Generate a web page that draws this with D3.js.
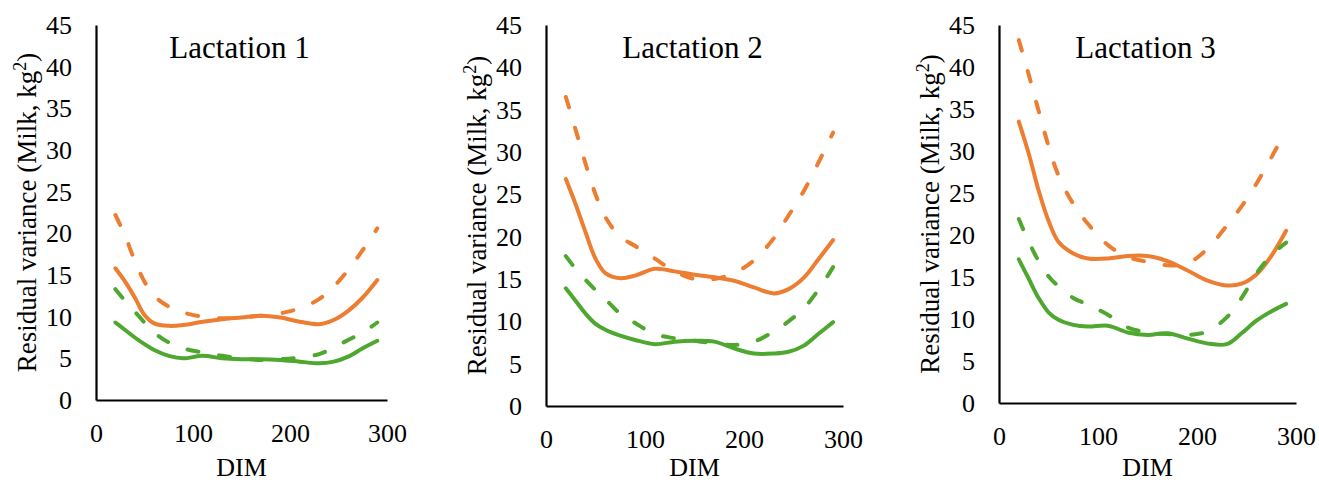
<!DOCTYPE html>
<html><head><meta charset="utf-8">
<script src="https://cdn.jsdelivr.net/npm/d3@7"></script>
<style>
html,body{margin:0;padding:0;background:#fff;}
svg{display:block;}
</style></head>
<body><svg id="chart" width="1319" height="482"></svg>
<script>
// ---- data ----
const dim = [20, 30, 40, 50, 60, 75, 90, 110, 130, 150, 170, 190, 210, 230, 245, 260, 275, 290];
const titles = ["Lactation 1", "Lactation 2", "Lactation 3"];
const xTicks = [0, 100, 200, 300];
const yTicks = [0, 5, 10, 15, 20, 25, 30, 35, 40, 45];

// Lactation 1
const l1OrangeSolid  = [15.8,14.2,12.3,10.2,9.2,8.9,9.0,9.4,9.7,9.9,10.1,9.9,9.4,9.1,9.6,10.7,12.3,14.4];
const l1OrangeDashed = [22.2,19.7,16.7,14.2,12.5,11.2,10.5,10.0,9.8,9.9,10.1,10.4,11.0,12.1,13.6,15.6,18.0,20.6];
const l1GreenSolid   = [9.3,8.4,7.5,6.7,6.0,5.3,5.0,5.3,5.0,4.9,4.9,4.8,4.6,4.4,4.6,5.2,6.2,7.1];
const l1GreenDashed  = [13.3,11.9,10.6,9.3,8.1,6.9,6.2,5.7,5.3,5.0,4.8,4.9,5.1,5.5,6.3,7.2,8.1,9.3];
// Lactation 2
const l2OrangeSolid  = [26.8,23.8,20.5,17.4,15.7,15.1,15.4,16.2,15.9,15.5,15.2,14.8,14.0,13.3,13.8,15.1,17.3,19.6];
const l2OrangeDashed = [36.5,32.6,28.6,25.0,22.3,20.0,18.9,17.4,15.9,15.0,15.0,15.7,17.2,19.8,22.5,25.3,28.7,32.3];
const l2GreenSolid   = [13.9,12.4,10.9,9.7,9.0,8.3,7.8,7.3,7.6,7.7,7.6,6.8,6.2,6.2,6.4,7.1,8.5,9.9];
const l2GreenDashed  = [17.7,16.2,14.9,13.7,12.6,10.9,9.8,8.5,8.0,7.7,7.4,7.2,7.6,8.8,10.0,11.5,13.7,16.4];
// Lactation 3
const l3OrangeSolid  = [33.5,29.7,25.3,21.7,19.2,17.8,17.2,17.2,17.5,17.5,16.9,15.8,14.6,14.0,14.2,15.3,17.5,20.5];
const l3OrangeDashed = [43.2,39.1,34.8,30.6,27.1,23.7,21.3,18.8,17.4,16.8,16.4,16.6,18.3,21.1,23.4,26.1,29.2,32.5];
const l3GreenSolid   = [17.1,14.8,12.5,10.8,9.9,9.3,9.1,9.2,8.4,8.1,8.3,7.7,7.1,7.0,8.3,9.8,10.9,11.8];
const l3GreenDashed  = [21.9,19.2,16.9,15.1,13.9,12.5,11.7,10.5,9.0,8.4,8.2,8.1,8.5,10.2,12.5,15.4,17.6,19.1];

const panelSeries = [
  [l1OrangeSolid, l1OrangeDashed, l1GreenSolid, l1GreenDashed],
  [l2OrangeSolid, l2OrangeDashed, l2GreenSolid, l2GreenDashed],
  [l3OrangeSolid, l3OrangeDashed, l3GreenSolid, l3GreenDashed]
];

// ---- layout / style ----
const FONT = "Liberation Serif";
const ORANGE = "#ED7D31", GREEN = "#4EA72E";
const seriesStyle = [
  {color: ORANGE, dash: null},
  {color: ORANGE, dash: "11,21"},
  {color: GREEN, dash: null},
  {color: GREEN, dash: "11,21"}
];
const panels = [
  {left: 96, right: 387, top: 25, bottom: 400},
  {left: 546, right: 843, top: 25, bottom: 406},
  {left: 999, right: 1296, top: 25, bottom: 403}
];

const svg = d3.select("#chart");

panels.forEach((p, i) => {
  const g = svg.append("g");
  const x = d3.scaleLinear().domain([0, 300]).range([p.left, p.right]);
  const y = d3.scaleLinear().domain([0, 45]).range([p.bottom, p.top]);

  // series
  const line = d3.line().x((d, k) => x(dim[k])).y(d => y(d)).curve(d3.curveCatmullRom.alpha(0.5));
  panelSeries[i].forEach((vals, s) => {
    const st = seriesStyle[s];
    g.append("path").datum(vals)
      .attr("d", line)
      .attr("fill", "none")
      .attr("stroke", st.color)
      .attr("stroke-width", 4)
      .attr("stroke-linecap", "round")
      .attr("stroke-linejoin", "round")
      .attr("stroke-dasharray", st.dash);
  });

  // axes
  const yAxis = d3.axisLeft(y).tickValues(yTicks).tickSizeInner(0).tickSizeOuter(0).tickPadding(24);
  const yg = g.append("g").attr("transform", `translate(${p.left},0)`).call(yAxis);
  const xAxis = d3.axisBottom(x).tickValues(xTicks).tickSizeInner(0).tickSizeOuter(0).tickPadding(0);
  const xg = g.append("g").attr("transform", `translate(0,${p.bottom})`).call(xAxis);
  [yg, xg].forEach(a => {
    a.attr("font-family", null).attr("font-size", null);
    a.select(".domain").attr("stroke", "#000").attr("stroke-width", 2.2);
    a.selectAll("text").style("font-family", FONT).style("font-size", "26px").attr("fill", "#000");
  });
  xg.selectAll("text").attr("y", 0).attr("dy", null)
    .attr("transform", "translate(0,42)");
  yg.selectAll("text").attr("dy", "0.33em");

  // title
  g.append("text").attr("x", (p.left + p.right) / 2 - 2).attr("y", 58)
    .attr("text-anchor", "middle").style("font-family", FONT).style("font-size", "31px")
    .attr("fill", "#000").text(titles[i]);

  // x axis title
  g.append("text").attr("x", (p.left + p.right) / 2).attr("y", 476)
    .attr("text-anchor", "middle").style("font-family", FONT).style("font-size", "26px")
    .attr("fill", "#000").text("DIM");

  // y axis title
  const yt = g.append("text")
    .attr("transform", `translate(${p.left - 60},${(p.top + p.bottom) / 2}) rotate(-90)`)
    .attr("text-anchor", "middle").style("font-family", FONT).style("font-size", "27px").attr("fill", "#000");
  yt.append("tspan").text("Residual variance (Milk, kg");
  yt.append("tspan").style("font-size", "18px").attr("dy", -10).text("2");
  yt.append("tspan").attr("dy", 10).text(")");
});
</script>
</body></html>
